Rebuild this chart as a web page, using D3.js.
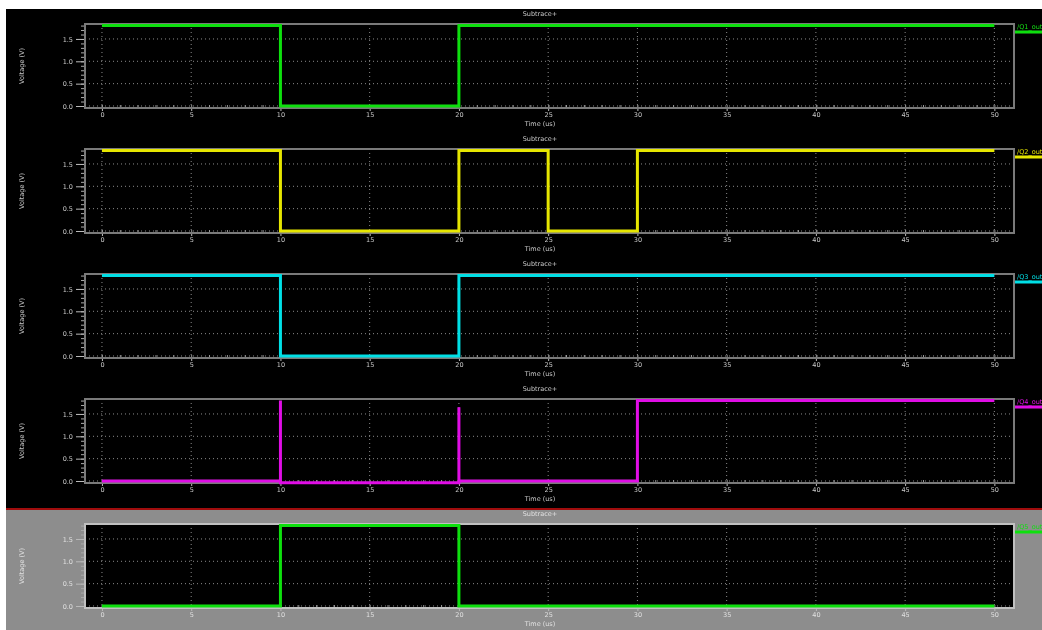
<!DOCTYPE html>
<html>
<head>
<meta charset="utf-8">
<script src="https://cdn.jsdelivr.net/npm/d3@7"></script>
<style>
  body { margin: 0; background: #fff; }
  svg { display: block; font-family: "DejaVu Sans", sans-serif; }
</style>
</head>
<body>
<svg id="chart" width="1042" height="630"></svg>
<script>
// waveform data (time in us, voltage in V)
const panelTitles = ['Subtrace+', 'Subtrace+', 'Subtrace+', 'Subtrace+', 'Subtrace+'];
const legendNames = ['/Q1_out', '/Q2_out', '/Q3_out', '/Q4_out', '/Q5_out'];
const xTicks = [0, 5, 10, 15, 20, 25, 30, 35, 40, 45, 50];
const yTicks = [0, 0.5, 1.0, 1.5];

const q1Time = [0, 10, 10, 20, 20, 50];
const q1Volt = [1.8, 1.8, 0, 0, 1.8, 1.8];
const q2Time = [0, 10, 10, 20, 20, 25, 25, 30, 30, 50];
const q2Volt = [1.8, 1.8, 0, 0, 1.8, 1.8, 0, 0, 1.8, 1.8];
const q3Time = [0, 10, 10, 20, 20, 50];
const q3Volt = [1.8, 1.8, 0, 0, 1.8, 1.8];
const q4Time = [0, 10, 10, 10, 20, 20, 20, 30, 30, 50];
const q4Volt = [0, 0, 1.8, -0.04, -0.04, 1.65, 0, 0, 1.8, 1.8];
const q5Time = [0, 10, 10, 20, 20, 50];
const q5Volt = [0, 0, 1.8, 1.8, 0, 0];

const signals = [
  { t: q1Time, v: q1Volt, color: '#10e010' },
  { t: q2Time, v: q2Volt, color: '#e6e600' },
  { t: q3Time, v: q3Volt, color: '#00e0e6' },
  { t: q4Time, v: q4Volt, color: '#e010e6' },
  { t: q5Time, v: q5Volt, color: '#10e010' },
];

const svg = d3.select('#chart');

const defs = svg.append('defs');
defs.append('filter').attr('id', 'soft')
  .append('feGaussianBlur').attr('stdDeviation', 0.45);

const root = svg.append('g').attr('filter', 'url(#soft)');

// window backgrounds
root.append('rect').attr('x', 6).attr('y', 9).attr('width', 1036).attr('height', 500).attr('fill', '#000');
root.append('rect').attr('x', 6).attr('y', 510).attr('width', 1036).attr('height', 120).attr('fill', '#8d8d8d');
root.append('line').attr('x1', 6).attr('x2', 1042).attr('y1', 509).attr('y2', 509)
  .attr('stroke', '#a01010').attr('stroke-width', 2);

const box = { left: 85, right: 1014, height: 84 };
const x = d3.scaleLinear().domain([-0.95, 51.1]).range([box.left, box.right]);

signals.forEach((s, i) => {
  const top = 24 + i * 125;
  const bottom = top + box.height;
  const active = i === 4;
  const labelColor = active ? '#e0e0e0' : '#c8c8c8';
  const y = d3.scaleLinear().domain([-0.045, 1.835]).range([bottom, top]);
  const g = root.append('g');

  g.append('rect').attr('x', box.left).attr('y', top)
    .attr('width', box.right - box.left).attr('height', box.height)
    .attr('fill', '#000');

  // dotted grid
  g.append('g').selectAll('line.gx').data(xTicks).join('line')
    .attr('x1', d => x(d)).attr('x2', d => x(d)).attr('y1', top).attr('y2', bottom)
    .attr('stroke', '#8a8a8a').attr('stroke-width', 1).attr('stroke-dasharray', '1,3');
  g.append('g').selectAll('line.gy').data(yTicks).join('line')
    .attr('x1', box.left).attr('x2', box.right).attr('y1', d => y(d)).attr('y2', d => y(d))
    .attr('stroke', '#8a8a8a').attr('stroke-width', 1).attr('stroke-dasharray', '1,3');

  // minor ticks
  const xMinor = d3.axisBottom(x).tickValues(d3.range(0, 51, 1)).tickSize(-3).tickFormat('');
  g.append('g').attr('transform', `translate(0,${bottom})`).call(xMinor)
    .call(a => a.select('.domain').remove())
    .selectAll('line').attr('stroke', '#999');
  const yMinor = d3.axisLeft(y).tickValues(d3.range(0, 1.85, 0.1)).tickSize(4).tickFormat('');
  g.append('g').attr('transform', `translate(${box.left},0)`).call(yMinor)
    .call(a => a.select('.domain').remove())
    .selectAll('line').attr('stroke', '#aaa');

  // major axes
  const xAxis = d3.axisBottom(x).tickValues(xTicks).tickSize(3).tickPadding(1).tickFormat(d3.format('d'));
  g.append('g').attr('transform', `translate(0,${bottom})`).call(xAxis)
    .call(a => a.select('.domain').remove())
    .call(a => a.selectAll('line').attr('stroke', '#bbb'))
    .call(a => a.selectAll('text').attr('fill', labelColor).attr('font-size', 6.5).attr('font-family', 'DejaVu Sans'));
  const yAxis = d3.axisLeft(y).tickValues(yTicks).tickSize(9).tickPadding(3).tickFormat(d3.format('.1f'));
  g.append('g').attr('transform', `translate(${box.left},0)`).call(yAxis)
    .call(a => a.select('.domain').remove())
    .call(a => a.selectAll('line').attr('stroke', '#bbb'))
    .call(a => a.selectAll('text').attr('fill', labelColor).attr('font-size', 6.5).attr('font-family', 'DejaVu Sans'));

  // frame
  g.append('rect').attr('x', box.left).attr('y', top)
    .attr('width', box.right - box.left).attr('height', box.height)
    .attr('fill', 'none').attr('stroke', active ? '#c0c0c0' : '#7a7a7a').attr('stroke-width', 2);

  // waveform
  const pts = s.t.map((t, k) => [t, s.v[k]]);
  g.append('path').datum(pts)
    .attr('d', d3.line().x(d => x(d[0])).y(d => y(d[1])))
    .attr('fill', 'none').attr('stroke', s.color).attr('stroke-width', 3);

  // texts
  g.append('text').attr('x', 540).attr('y', top - 8).attr('text-anchor', 'middle')
    .attr('fill', labelColor).attr('font-size', 6.5).text(panelTitles[i]);
  g.append('text').attr('x', 540).attr('y', bottom + 18).attr('text-anchor', 'middle')
    .attr('fill', labelColor).attr('font-size', 6.5).text('Time (us)');
  g.append('text').attr('transform', `translate(24,${top + box.height / 2}) rotate(-90)`)
    .attr('text-anchor', 'middle').attr('fill', labelColor).attr('font-size', 6.5).text('Voltage (V)');

  // legend
  g.append('text').attr('x', 1017).attr('y', top + 5).attr('fill', s.color)
    .attr('font-size', 6.5).text(legendNames[i]);
  g.append('line').attr('x1', 1015).attr('x2', 1042).attr('y1', top + 8).attr('y2', top + 8)
    .attr('stroke', s.color).attr('stroke-width', 3);
});
</script>
</body>
</html>
